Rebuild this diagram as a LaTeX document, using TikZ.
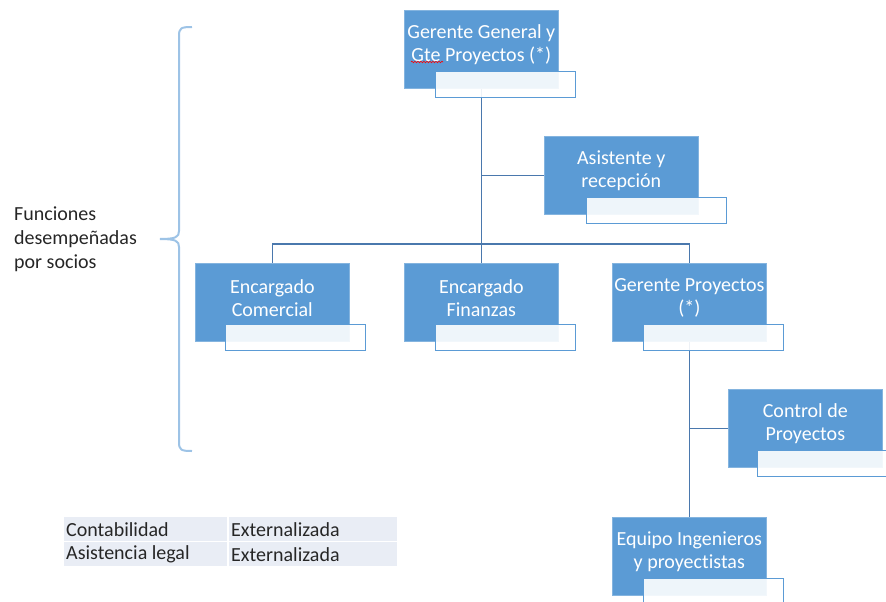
\documentclass[tikz,border=0pt]{standalone}
\usepackage{fontspec}
\setmainfont{Carlito}[Ligatures=NoCommon]
\usetikzlibrary{decorations.pathmorphing,calc}
\pgfdeclarelayer{background}
\pgfsetlayers{background,main}

\definecolor{boxblue}{HTML}{5B9BD5}
\definecolor{linkblue}{HTML}{4A78AD}
\definecolor{bracecol}{HTML}{9DC3E6}
\definecolor{cellfill}{HTML}{E9EDF5}
\definecolor{inktext}{HTML}{262626}

\tikzset{
  unit/.style={fill=boxblue, draw=boxblue!75!white, line width=0.6pt,
    minimum width=154pt, minimum height=78pt, inner sep=0pt, anchor=north west},
  unitlabel/.style={text=white, align=center, inner sep=0pt,
    font=\fontsize{20}{23}\selectfont},
  tag/.style={fill=white, fill opacity=0.9, draw=boxblue, line width=1.3pt,
    minimum width=140pt, minimum height=26pt, inner sep=0pt, anchor=north west},
  link/.style={draw=linkblue, line width=1.5pt},
  bracket/.style={draw=bracecol, line width=2pt},
  note/.style={text=inktext, align=left, inner sep=0pt, anchor=west,
    font=\fontsize{20}{24}\selectfont},
  cell/.style={fill=cellfill, anchor=north west, inner sep=0pt, minimum height=24pt},
  celltext/.style={text=inktext, anchor=west, inner sep=0pt,
    font=\fontsize{20}{24}\selectfont},
}

% name, left, top, caption, horizontal offset of the tag strip
\newcommand\orgunit[5]{%
  \node[unit] (#1) at (#2,#3) {};
  \node[unitlabel] (#1-label) at ([yshift=-35pt]#1.north) {#4};
  \node[tag] (#1-tag) at ([xshift=#5pt,yshift=-61pt]#1.north west) {};
}

% name, left, top, width, text
\newcommand\tablecell[5]{%
  \node[cell, minimum width=#4pt] (#1) at (#2,#3) {};
  \node[celltext] (#1-text) at ([xshift=2pt]#1.west) {#5};
}

\begin{document}
\begin{tikzpicture}[x=1pt,y=-1pt]
  \useasboundingbox (0,0) rectangle (886,602);
  \clip (0,0) rectangle (886,602);

  % organisation units
  \orgunit{gg}{404}{10}{Gerente General y\\Gte Proyectos (*)}{31}
  \orgunit{as}{544}{136}{Asistente y\\recepción}{42}
  \orgunit{com}{195}{263}{Encargado\\Comercial}{30}
  \orgunit{fin}{404}{263}{Encargado\\Finanzas}{31}
  \orgunit{gp}{612}{263}{Gerente Proyectos\\(*)}{31}
  \orgunit{ctl}{728}{389}{Control de\\Proyectos}{29}
  \orgunit{eq}{612}{517}{Equipo Ingenieros\\y proyectistas}{31}

  % spell-check underline under "Gte"
  \draw[red, line width=0.6pt, decorate,
    decoration={snake, amplitude=0.8pt, segment length=3pt}] (411,62) -- (443,62);

  % reporting lines
  \begin{pgfonlayer}{background}
    \draw[link] (gg.south) -- (fin.north);
    \draw[link] (as.west) -- (as.west -| gg.south);
    \draw[link] (com.north) -- ++(0,-19) -| (gp.north);
    \draw[link] (gp.south) -- (eq.north);
    \draw[link] (ctl.west) -- (ctl.west -| gp.south);
  \end{pgfonlayer}

  % partners bracket
  \coordinate (brtip) at (160,239);
  \draw[bracket] (192,27) .. controls (181,27) and (179,28) .. (179,36)
    -- (179,231) .. controls (179,237) and (176,239) .. (brtip)
    .. controls (176,239) and (179,241) .. (179,247)
    -- (179,442) .. controls (179,450) and (181,451) .. (192,451);
  \node[note] (socios) at (14,239) {Funciones\\desempeñadas\\por socios};

  % outsourced functions
  \tablecell{c11}{64}{517}{163}{Contabilidad}
  \tablecell{c12}{229}{517}{168}{Externalizada}
  \tablecell{c21}{64}{542}{163}{Asistencia legal}
  \tablecell{c22}{229}{542}{168}{Externalizada}
\end{tikzpicture}
\end{document}
